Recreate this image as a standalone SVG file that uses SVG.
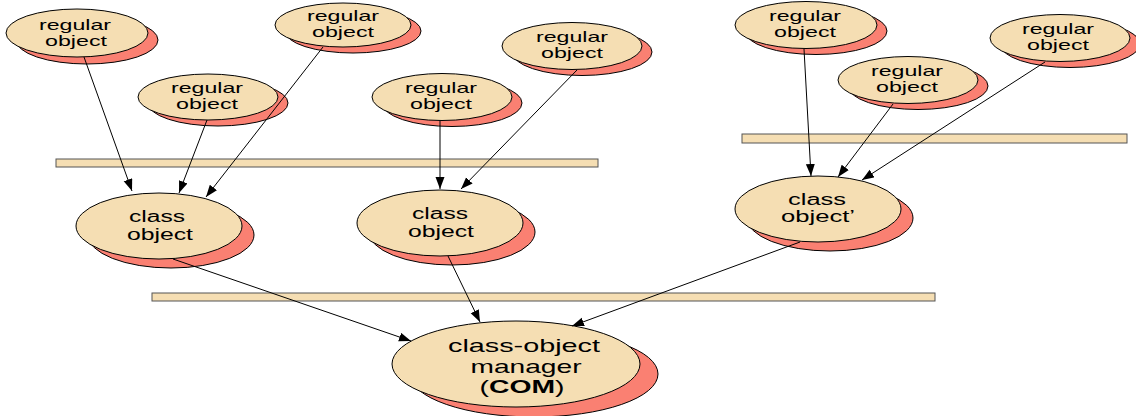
<svg xmlns="http://www.w3.org/2000/svg" width="1136" height="416" viewBox="0 0 1136 416">
<defs>
<style>
.sh{fill:#FA8072;stroke:#000;stroke-width:1}
.bd{fill:#F5DEB3;stroke:#000;stroke-width:1}
.bar{fill:#F5DEB3;stroke:#555;stroke-width:1}
.t{font-family:"Liberation Sans",Arial,sans-serif;fill:#000;text-anchor:middle}
.r{font-size:14.5px}
.c{font-size:16px}
.m{font-size:18.5px}
.ln{stroke:#000;stroke-width:1;fill:none;marker-end:url(#ah)}
</style>
<marker id="ah" markerUnits="userSpaceOnUse" markerWidth="13" markerHeight="10" refX="12" refY="4.5" orient="auto">
<path d="M0,0 L12,4.5 L0,9 z" fill="#000"/>
</marker>
</defs>
<rect width="1136" height="416" fill="#fff"/>
<g id="bar-left"><rect class="bar" x="56" y="159" width="542" height="8"/></g>
<g id="bar-right"><rect class="bar" x="742" y="134" width="385" height="9"/></g>
<g id="bar-bottom"><rect class="bar" x="152" y="293" width="783" height="8"/></g>
<g id="reg1"><ellipse class="sh" cx="87" cy="40" rx="71" ry="24"/><ellipse class="bd" cx="77" cy="33" rx="71" ry="24"/>
<text class="t r" x="75" y="30" textLength="72" lengthAdjust="spacingAndGlyphs">regular</text><text class="t r" x="76" y="46" textLength="62" lengthAdjust="spacingAndGlyphs">object</text></g>
<g id="reg2"><ellipse class="sh" cx="218" cy="103" rx="70" ry="23"/><ellipse class="bd" cx="208" cy="97" rx="70" ry="23"/>
<text class="t r" x="207" y="93" textLength="72" lengthAdjust="spacingAndGlyphs">regular</text><text class="t r" x="207" y="109" textLength="62" lengthAdjust="spacingAndGlyphs">object</text></g>
<g id="reg3"><ellipse class="sh" cx="353" cy="31" rx="68" ry="22"/><ellipse class="bd" cx="343" cy="25" rx="68" ry="22"/>
<text class="t r" x="343" y="21" textLength="72" lengthAdjust="spacingAndGlyphs">regular</text><text class="t r" x="343" y="37" textLength="62" lengthAdjust="spacingAndGlyphs">object</text></g>
<g id="reg4"><ellipse class="sh" cx="452" cy="103" rx="70" ry="23.5"/><ellipse class="bd" cx="442" cy="97" rx="70" ry="23.5"/>
<text class="t r" x="441" y="93" textLength="72" lengthAdjust="spacingAndGlyphs">regular</text><text class="t r" x="441" y="109" textLength="62" lengthAdjust="spacingAndGlyphs">object</text></g>
<g id="reg5"><ellipse class="sh" cx="582" cy="52" rx="70" ry="23.5"/><ellipse class="bd" cx="572" cy="46" rx="70" ry="23.5"/>
<text class="t r" x="572" y="42" textLength="72" lengthAdjust="spacingAndGlyphs">regular</text><text class="t r" x="572" y="58" textLength="62" lengthAdjust="spacingAndGlyphs">object</text></g>
<g id="reg6"><ellipse class="sh" cx="816" cy="31" rx="71" ry="23.5"/><ellipse class="bd" cx="806" cy="25" rx="71" ry="23.5"/>
<text class="t r" x="805" y="21" textLength="72" lengthAdjust="spacingAndGlyphs">regular</text><text class="t r" x="805" y="37" textLength="62" lengthAdjust="spacingAndGlyphs">object</text></g>
<g id="reg7"><ellipse class="sh" cx="918" cy="86" rx="70" ry="23.5"/><ellipse class="bd" cx="908" cy="80" rx="70" ry="23.5"/>
<text class="t r" x="907" y="76" textLength="72" lengthAdjust="spacingAndGlyphs">regular</text><text class="t r" x="907" y="92" textLength="62" lengthAdjust="spacingAndGlyphs">object</text></g>
<g id="reg8"><ellipse class="sh" cx="1070" cy="44" rx="70" ry="23.5"/><ellipse class="bd" cx="1060" cy="38" rx="70" ry="23.5"/>
<text class="t r" x="1058" y="34" textLength="72" lengthAdjust="spacingAndGlyphs">regular</text><text class="t r" x="1058" y="50" textLength="62" lengthAdjust="spacingAndGlyphs">object</text></g>
<g id="class1"><ellipse class="sh" cx="171" cy="235" rx="83" ry="33"/><ellipse class="bd" cx="159" cy="226" rx="83" ry="33"/>
<text class="t c" x="157" y="222" textLength="56" lengthAdjust="spacingAndGlyphs">class</text><text class="t c" x="160" y="240" textLength="66" lengthAdjust="spacingAndGlyphs">object</text></g>
<g id="class2"><ellipse class="sh" cx="452" cy="232" rx="83" ry="33"/><ellipse class="bd" cx="440" cy="223" rx="83" ry="33"/>
<text class="t c" x="440" y="219" textLength="56" lengthAdjust="spacingAndGlyphs">class</text><text class="t c" x="441" y="237" textLength="66" lengthAdjust="spacingAndGlyphs">object</text></g>
<g id="class3"><ellipse class="sh" cx="830" cy="218" rx="83" ry="33"/><ellipse class="bd" cx="818" cy="209" rx="83" ry="33"/>
<text class="t c" x="817" y="205" textLength="58" lengthAdjust="spacingAndGlyphs">class</text><text class="t c" x="818" y="222" textLength="74" lengthAdjust="spacingAndGlyphs">object’</text></g>
<g id="com"><ellipse class="sh" cx="534" cy="374" rx="124" ry="43"/><ellipse class="bd" cx="516" cy="364" rx="124" ry="43"/>
<text class="t m" x="524" y="352" textLength="152" lengthAdjust="spacingAndGlyphs">class-object</text><text class="t m" x="526" y="373" textLength="111" lengthAdjust="spacingAndGlyphs">manager</text><text class="t m" x="522" y="393" textLength="85" lengthAdjust="spacingAndGlyphs">(<tspan font-weight="bold">COM</tspan>)</text></g>
<g id="connectors">
<line class="ln" x1="84" y1="57" x2="132" y2="191"/>
<line class="ln" x1="207" y1="120" x2="179" y2="193"/>
<line class="ln" x1="323" y1="47" x2="206" y2="197"/>
<line class="ln" x1="440" y1="121" x2="440" y2="189"/>
<line class="ln" x1="577" y1="70" x2="461" y2="189"/>
<line class="ln" x1="804" y1="49" x2="811" y2="176"/>
<line class="ln" x1="893" y1="104" x2="838" y2="177"/>
<line class="ln" x1="1045" y1="62" x2="862" y2="180"/>
<line class="ln" x1="173" y1="259" x2="411" y2="341"/>
<line class="ln" x1="448" y1="256" x2="480" y2="322"/>
<line class="ln" x1="800" y1="242" x2="572" y2="326"/>
</g>
</svg>
